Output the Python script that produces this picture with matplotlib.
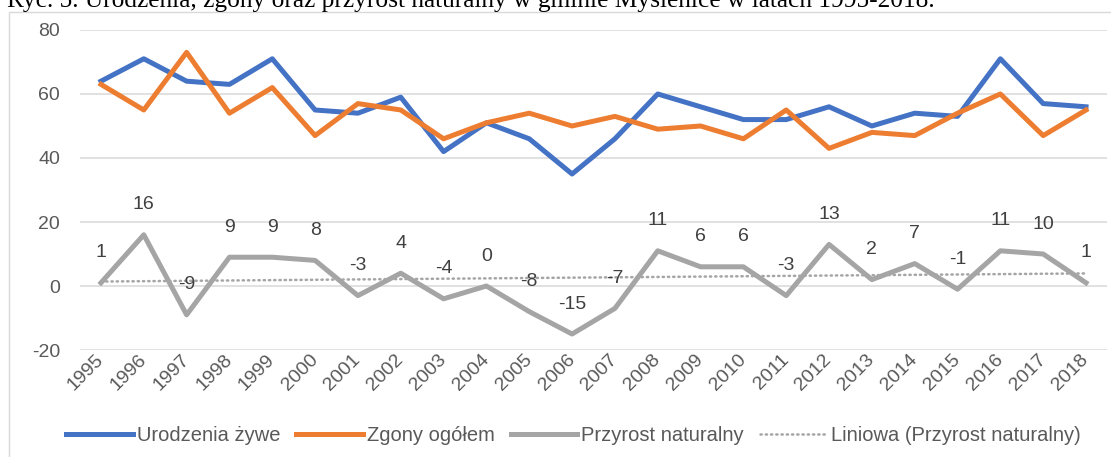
import numpy as np
import matplotlib
matplotlib.use("Agg")
import matplotlib.pyplot as plt
from matplotlib.patches import Rectangle

years = list(range(1995, 2019))
urodzenia = [64, 71, 64, 63, 71, 55, 54, 59, 42, 51, 46, 35,
             46, 60, 56, 52, 52, 56, 50, 54, 53, 71, 57, 56]
zgony = [63, 55, 73, 54, 62, 47, 57, 55, 46, 51, 54, 50,
         53, 49, 50, 46, 55, 43, 48, 47, 54, 60, 47, 55]
przyrost = [1, 16, -9, 9, 9, 8, -3, 4, -4, 0, -8, -15,
            -7, 11, 6, 6, -3, 13, 2, 7, -1, 11, 10, 1]

title = "Ryc. 5. Urodzenia, zgony oraz przyrost naturalny w gminie Myślenice w latach 1995-2018."

plt.rcParams['font.family'] = ['Liberation Sans', 'DejaVu Sans']
plt.rcParams['axes.unicode_minus'] = False

fig = plt.figure(figsize=(11.11, 4.57), dpi=100)
ax = fig.add_axes([0.0716, 0.2341, 0.9252, 0.7003])

# chart frame (only top and left edges fall inside the image)
fig.patches.append(Rectangle((9 / 1111, -0.05), 1.2, 1 - 12 / 457 + 0.05,
                             transform=fig.transFigure, fill=False,
                             edgecolor="#D9D9D9", lw=1.0))
# caption of the figure, cut at the top edge as in the scan
fig.text(7 / 1111, 1 - 7 / 457, title, family="Liberation Serif",
         fontsize=18.3, va="baseline", ha="left", color="black")

ax.plot(years, urodzenia, color="#4472C4", lw=3.6, label="Urodzenia żywe",
        solid_joinstyle="round", zorder=3)
ax.plot(years, zgony, color="#ED7D31", lw=3.6, label="Zgony ogółem",
        solid_joinstyle="round", zorder=3)
ax.plot(years, przyrost, color="#A5A5A5", lw=3.6, label="Przyrost naturalny",
        solid_joinstyle="round", zorder=3)

# linear trend, as the spreadsheet's "Liniowa" trendline
coef = np.polyfit(years, przyrost, 1)
trend = np.polyval(coef, years)
ax.plot(years, trend, color="#A5A5A5", lw=1.8, linestyle=(0, (0.5, 1.6)),
        dash_capstyle="round", label="Liniowa (Przyrost naturalny)", zorder=2)

for x, v in zip(years, przyrost):
    ax.annotate(str(v), (x, v), xytext=(0, 21.5), textcoords="offset points",
                ha="center", va="center", fontsize=14, color="#404040")

ax.set_xlim(1994.5, 2018.5)
ax.set_ylim(-20, 80)
ax.set_yticks([-20, 0, 20, 40, 60, 80])
ax.set_xticks(years)
ax.set_xticklabels([str(y) for y in years], rotation=45, ha="right",
                   va="center", rotation_mode="anchor")
ax.tick_params(axis="both", length=0, labelsize=14, labelcolor="#595959")
ax.tick_params(axis="y", pad=14)
ax.tick_params(axis="x", pad=5)
ax.grid(axis="y", color="#D9D9D9", lw=1.1)
ax.set_axisbelow(True)
for s in ax.spines.values():
    s.set_visible(False)

leg = fig.legend(loc="center", bbox_to_anchor=(0.516, 0.048), ncol=4,
                 frameon=False, fontsize=14.5, handlelength=3.3,
                 handletextpad=0.2, columnspacing=0.8, labelcolor="#595959")

fig.savefig("out.png", dpi=100)
